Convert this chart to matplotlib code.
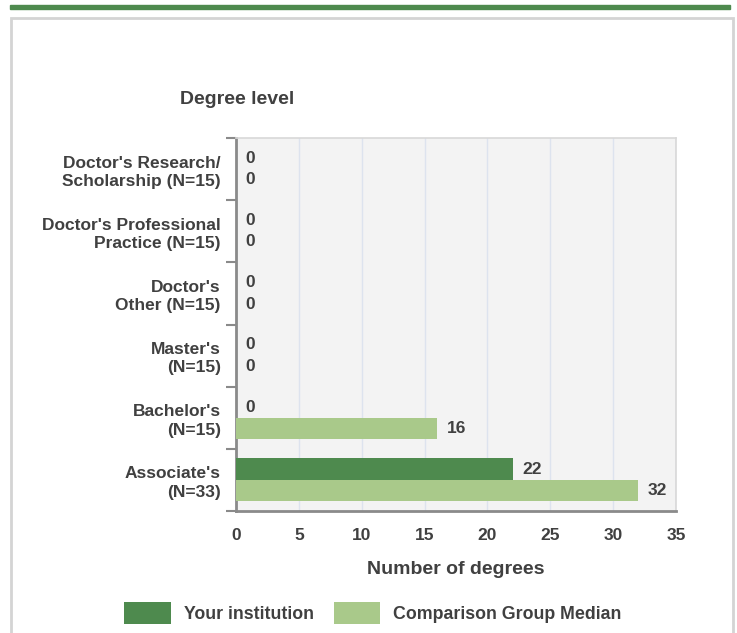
import matplotlib
matplotlib.use("Agg")
import matplotlib.pyplot as plt
from matplotlib.patches import Rectangle
import numpy as np

# 数据
categories = ["Doctor's Research/\nScholarship (N=15)",
              "Doctor's Professional\nPractice (N=15)",
              "Doctor's\nOther (N=15)",
              "Master's\n(N=15)",
              "Bachelor's\n(N=15)",
              "Associate's\n(N=33)"]
your_institution = [0, 0, 0, 0, 0, 22]
comparison_median = [0, 0, 0, 0, 16, 32]
series_names = ["Your institution", "Comparison Group Median"]
x_ticks = [0, 5, 10, 15, 20, 25, 30, 35]

dark = "#4e8a4e"
light = "#a9c98a"
txt = "#404040"

plt.rcParams['font.family'] = ['Liberation Sans', 'DejaVu Sans']
plt.rcParams['font.weight'] = 'bold'

W, H = 737, 633
fig = plt.figure(figsize=(W / 100, H / 100), dpi=100)

# 顶部绿色条和灰色边框
fig.patches.append(Rectangle((10 / W, 1 - 9 / H), 720 / W, 4 / H, transform=fig.transFigure,
                             color=dark, zorder=0))
fig.patches.append(Rectangle((11 / W, -0.01), 722 / W, 1 - 18 / H + 0.01, transform=fig.transFigure,
                             facecolor="none", edgecolor="#d4d4d4", linewidth=2, zorder=0))

ax = fig.add_axes([236 / W, 1 - 511 / H, 440 / W, 373 / H])
ax.set_facecolor("#f3f3f3")

y = np.arange(len(categories))
h = 0.345
b1 = ax.barh(y - h / 2, your_institution, height=h, color=dark, linewidth=0,
             label=series_names[0], zorder=3)
b2 = ax.barh(y + h / 2, comparison_median, height=h, color=light, linewidth=0,
             label=series_names[1], zorder=3)

for bars, vals in [(b1, your_institution), (b2, comparison_median)]:
    for rect, v in zip(bars, vals):
        ax.annotate(str(v), (v, rect.get_y() + rect.get_height() / 2), xytext=(7, 0),
                    textcoords="offset points", va="center", ha="left",
                    fontsize=12.5, color=txt)

ax.set_xlim(0, 35)
ax.set_ylim(len(categories) - 0.5, -0.5)
ax.set_xticks(x_ticks)
ax.set_xticklabels([str(t) for t in x_ticks])
ax.tick_params(axis="x", length=0, pad=12, labelsize=12.5, labelcolor=txt)
ax.xaxis.grid(True, color="#dde3ee", linewidth=1, zorder=0)
ax.set_axisbelow(True)

# 分组边界刻度 + 类别标签
ax.set_yticks(np.arange(-0.5, len(categories)), minor=False)
ax.set_yticklabels([])
ax.set_yticks(y, minor=True)
ax.set_yticklabels(categories, minor=True, fontsize=12.5, color=txt, linespacing=1.28)
ax.tick_params(axis="y", which="major", length=7.5, width=1.5, color="#8a8a8a")
ax.tick_params(axis="y", which="minor", length=0, pad=11)

for s in ["left", "bottom"]:
    ax.spines[s].set_color("#8a8a8a")
    ax.spines[s].set_linewidth(2)
for s in ["top", "right"]:
    ax.spines[s].set_color("#d8d8d8")
    ax.spines[s].set_linewidth(1.2)

fig.text(237 / W, 1 - 99 / H, "Degree level", ha="center", va="center", fontsize=14, color=txt)
fig.text(456 / W, 1 - 570 / H, "Number of degrees", ha="center", va="center", fontsize=14, color=txt)

fig.legend(handles=[b1, b2], labels=series_names, loc="center", bbox_to_anchor=(373 / W, 1 - 613 / H),
           ncol=2, frameon=False, fontsize=12.8, labelcolor=txt, handlelength=2.6, handleheight=1.6,
           handletextpad=0.75, columnspacing=1.1)

fig.savefig("out.png", dpi=100)
